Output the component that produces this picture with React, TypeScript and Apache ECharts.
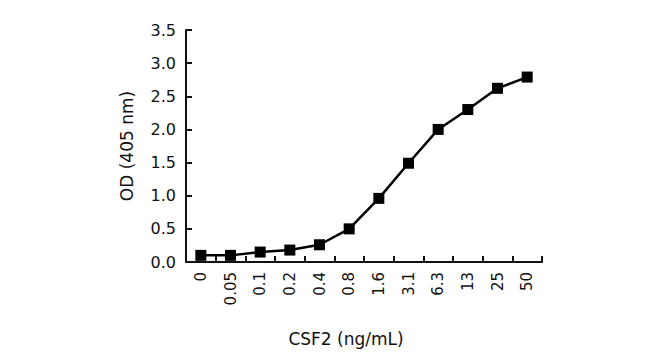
import React, { useEffect, useRef } from "react";
import * as echarts from "echarts";

const concentrations = ["0", "0.05", "0.1", "0.2", "0.4", "0.8", "1.6", "3.1", "6.3", "13", "25", "50"];
const odValues = [0.1, 0.1, 0.15, 0.18, 0.26, 0.5, 0.96, 1.49, 2.0, 2.3, 2.62, 2.79];
const xAxisTitle = "CSF2 (ng/mL)";
const yAxisTitle = "OD (405 nm)";

export default function App() {
  const ref = useRef<HTMLDivElement>(null);
  useEffect(() => {
    if (!ref.current) return;
    const chart = echarts.init(ref.current, null, { renderer: "svg" });
    const font = "'DejaVu Sans', sans-serif";
    chart.setOption({
      animation: false,
      backgroundColor: "#ffffff",
      grid: { left: 186, right: 108, top: 30, bottom: 97, containLabel: false },
      xAxis: {
        type: "category",
        data: concentrations,
        boundaryGap: true,
        name: xAxisTitle,
        nameLocation: "middle",
        nameGap: 68,
        nameTextStyle: { fontFamily: font, fontSize: 17, color: "#111", padding: [0, 36, 0, 0] },
        axisLine: { lineStyle: { color: "#111", width: 2 } },
        axisTick: { show: true, inside: true, length: 6, alignWithLabel: false, lineStyle: { color: "#111", width: 2 } },
        axisLabel: { rotate: 90, fontFamily: font, fontSize: 15, color: "#111", margin: 10 },
        splitLine: { show: false },
      },
      yAxis: {
        type: "value",
        min: 0,
        max: 3.5,
        interval: 0.5,
        name: yAxisTitle,
        nameLocation: "middle",
        nameGap: 51,
        nameTextStyle: { fontFamily: font, fontSize: 17, color: "#111" },
        axisLine: { show: true, lineStyle: { color: "#111", width: 2 } },
        axisTick: { show: true, inside: true, length: 6, lineStyle: { color: "#111", width: 2 } },
        axisLabel: {
          fontFamily: font,
          fontSize: 16,
          color: "#111",
          margin: 10,
          formatter: (v: number) => v.toFixed(1),
        },
        splitLine: { show: false },
      },
      series: [
        {
          type: "line",
          data: odValues,
          symbol: "rect",
          symbolSize: 11,
          lineStyle: { color: "#000", width: 2.5 },
          itemStyle: { color: "#000" },
          smooth: false,
        },
      ],
    });
    return () => chart.dispose();
  }, []);
  return <div ref={ref} style={{ position: "fixed", left: 0, top: 0, width: 650, height: 359 }} />;
}
